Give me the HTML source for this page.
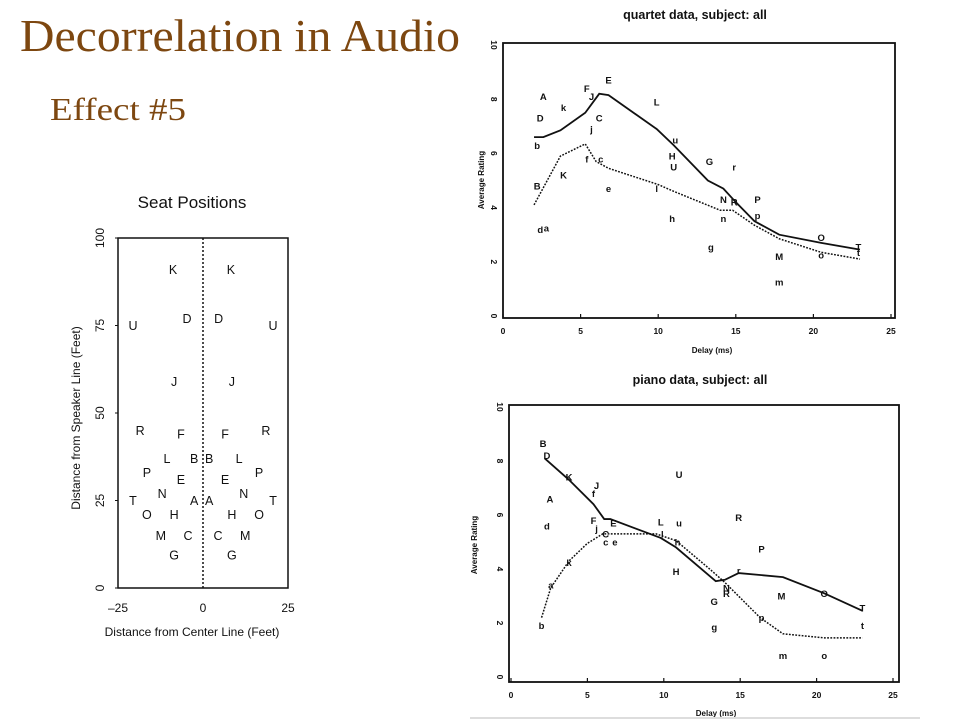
<!DOCTYPE html>
<html><head><meta charset="utf-8"><style>
html,body{margin:0;padding:0;background:#fff;}
svg{display:block;}
text{font-family:"Liberation Sans",sans-serif;fill:#111;}
</style></head><body>
<svg id="root" width="960" height="720" viewBox="0 0 960 720" xmlns="http://www.w3.org/2000/svg">
<text x="20" y="51" textLength="440" lengthAdjust="spacingAndGlyphs" style="font-family:'Liberation Serif',serif;font-size:46px;fill:#7d4710">Decorrelation in Audio</text>
<text x="50" y="120" textLength="136" lengthAdjust="spacingAndGlyphs" style="font-family:'Liberation Serif',serif;font-size:32px;fill:#7d4710">Effect #5</text>
<g id="seat"></g>
<g id="quartet"></g>
<g id="piano"></g>
<line x1="470" y1="718" x2="920" y2="718" stroke="#ddd" stroke-width="2"/>
</svg>
<script>
// ---- seat positions data ----
const seatLabels = ["K","D","U","J","R","F","L","B","P","E","N","T","A","O","H","M","C","G"];
const seatXLeft = [-8.8,-4.7,-20.6,-8.5,-18.5,-6.5,-10.6,-2.6,-16.5,-6.5,-12,-20.6,-2.6,-16.5,-8.5,-12.4,-4.4,-8.5];
const seatXRight = [8.2,4.6,20.6,8.5,18.5,6.5,10.6,1.8,16.5,6.5,12,20.6,1.8,16.5,8.5,12.4,4.4,8.5];
const seatY = [91,77,75,59,45,44,37,37,33,31,27,25,25,21,21,15,15,9.5];
const seatXTicks = ["-25","0","25"];
const seatYTicks = ["0","25","50","75","100"];

// ---- quartet data ----
const qLabels = ["A","k","F","J","E","L","D","C","j","b","u","H","U","G","r","f","c","K","B","e","l","N","R","P","p","h","n","d","a","g","O","T","t","M","o","m"];
const qX = [2.6,3.9,5.4,5.7,6.8,9.9,2.4,6.2,5.7,2.2,11.1,10.9,11.0,13.3,14.9,5.4,6.3,3.9,2.2,6.8,9.9,14.2,14.9,16.4,16.4,10.9,14.2,2.4,2.8,13.4,20.5,22.9,22.9,17.8,20.5,17.8];
const qY = [8.1,7.7,8.4,8.1,8.7,7.9,7.3,7.3,6.9,6.3,6.5,5.9,5.5,5.7,5.5,5.8,5.8,5.2,4.8,4.7,4.7,4.3,4.2,4.3,3.7,3.6,3.6,3.2,3.25,2.55,2.9,2.55,2.35,2.2,2.25,1.25];
const qSolidX = [2,2.6,3.7,5.3,6.2,6.8,9.9,11,13.2,14.2,15,16.2,17.8,20.5,23];
const qSolidY = [6.6,6.6,6.85,7.5,8.2,8.15,6.9,6.3,5.0,4.7,4.2,3.5,3.0,2.7,2.45];
const qDotX = [2,3.7,5.3,6,6.8,10,11,14,14.8,16.2,17.8,20.5,23];
const qDotY = [4.1,5.9,6.35,5.7,5.45,4.85,4.6,3.9,3.9,3.35,2.85,2.35,2.1];

// ---- piano data ----
const pLabels = ["B","D","K","J","f","A","U","d","F","j","E","C","c","e","L","u","l","h","R","P","k","H","r","a","N","R","G","M","O","p","T","b","g","t","m","o"];
const pX = [2.1,2.35,3.8,5.6,5.4,2.55,11.0,2.35,5.4,5.6,6.7,6.2,6.2,6.8,9.8,11.0,9.9,10.9,14.9,16.4,3.8,10.8,14.9,2.6,14.1,14.1,13.3,17.7,20.5,16.4,23.0,2.0,13.3,23.0,17.8,20.5];
const pY = [8.65,8.2,7.4,7.1,6.8,6.6,7.5,5.6,5.8,5.5,5.7,5.3,5.0,5.0,5.75,5.7,5.3,5.0,5.9,4.75,4.25,3.9,3.95,3.4,3.3,3.1,2.8,3.0,3.1,2.2,2.55,1.9,1.85,1.9,0.8,0.8];
const pSolidX = [2.2,3.8,5.4,6.1,6.5,9.8,10.8,13.4,14,14.9,17.8,20.5,23];
const pSolidY = [8.1,7.3,6.4,5.85,5.85,5.15,4.8,3.55,3.6,3.85,3.7,3.1,2.45];
const pDotX = [2,2.6,3.8,5,6,7,9.5,10.8,13,14,16.3,17.8,20.5,23];
const pDotY = [2.2,3.3,4.3,4.95,5.3,5.3,5.3,5.05,4.0,3.5,2.2,1.6,1.45,1.45];
const delayTicks = ["0","5","10","15","20","25"];
const ratingTicks = ["0","2","4","6","8","10"];

const NS = "http://www.w3.org/2000/svg";
function mk(parent, tag, attrs, txt){
  const e = document.createElementNS(NS, tag);
  for (const k in attrs) e.setAttribute(k, attrs[k]);
  if (txt !== undefined) e.textContent = txt;
  parent.appendChild(e);
  return e;
}

// ---------- seat chart ----------
(function(){
  const g = document.getElementById('seat');
  const sx = v => 203 + v * 3.4;
  const sy = v => 588 - v * 3.5;
  const t = mk(g,'text',{x:192,y:208,'text-anchor':'middle','font-size':17}, 'Seat Positions');
  
  
  const box = mk(g,'rect',{x:sx(-25),y:sy(100),width:sx(25)-sx(-25),height:sy(0)-sy(100),fill:'none',stroke:'#111','stroke-width':1.5});
  
  
  const cl = mk(g,'line',{x1:sx(0),y1:sy(100),x2:sx(0),y2:sy(0),stroke:'#111','stroke-width':1.5,'stroke-dasharray':'2,2'});
  
  
  seatXTicks.forEach(s => {
    const v = parseFloat(s);
    const l = mk(g,'text',{x:sx(v),y:612,'text-anchor':'middle','font-size':12}, s.replace('-','\u2013'));
    
    
  });
  seatYTicks.forEach(s => {
    const v = parseFloat(s);
    const l = mk(g,'text',{x:0,y:0,'text-anchor':'middle','font-size':12,transform:`translate(${104},${sy(v)}) rotate(-90)`}, s);
    
    
    mk(g,'line',{x1:sx(-25)-3,y1:sy(v),x2:sx(-25),y2:sy(v),stroke:'#111'});
  });
  const xt = mk(g,'text',{x:192,y:636,'text-anchor':'middle','font-size':12}, 'Distance from Center Line (Feet)');
  
  
  const yt = mk(g,'text',{x:0,y:0,'text-anchor':'middle','font-size':12,transform:'translate(80,418) rotate(-90)'}, 'Distance from Speaker Line (Feet)');
  
  
  seatLabels.forEach((lab,i) => {
    [seatXLeft[i], seatXRight[i]].forEach(xv => {
      const e = mk(g,'text',{x:sx(xv),y:sy(seatY[i])+4.5,'text-anchor':'middle','font-size':12.5}, lab);
      
      
    });
  });
})();

// ---------- rating charts ----------
function ratingChart(id, cfg, labels, xs, ys, sX, sY, dX, dY){
  const g = document.getElementById(id);
  const px = v => cfg.x0 + v * cfg.xu;
  const py = v => cfg.y0 - v * cfg.yu;
  const t = mk(g,'text',{x:cfg.tx,y:cfg.ty,'text-anchor':'middle','font-size':12.5,'font-weight':'bold'}, cfg.title);
  
  
  const box = mk(g,'rect',{x:cfg.bl,y:cfg.bt,width:cfg.br-cfg.bl,height:cfg.bb-cfg.bt,fill:'none',stroke:'#111','stroke-width':1.8});
  
  
  delayTicks.forEach(s => {
    const v = parseFloat(s);
    mk(g,'line',{x1:px(v),y1:cfg.bb,x2:px(v),y2:cfg.bb-4,stroke:'#111','stroke-width':1.2});
    const l = mk(g,'text',{x:px(v),y:cfg.bb+16,'text-anchor':'middle','font-size':8.5,'font-weight':'bold'}, s);
    
    
  });
  ratingTicks.forEach(s => {
    const v = parseFloat(s);
    const l = mk(g,'text',{x:0,y:0,'text-anchor':'middle','font-size':8.5,'font-weight':'bold',transform:`translate(${cfg.bl-12},${py(v)}) rotate(90)`}, s);
    
    
  });
  const xt = mk(g,'text',{x:cfg.xtx,y:cfg.xty,'text-anchor':'middle','font-size':8,'font-weight':'bold'}, 'Delay (ms)');
  
  
  const yt = mk(g,'text',{x:0,y:0,'text-anchor':'middle','font-size':8,'font-weight':'bold',transform:`translate(${cfg.ytx},${cfg.yty}) rotate(-90)`}, 'Average Rating');
  
  
  const sp = mk(g,'polyline',{points:sX.map((v,i)=>px(v)+','+py(sY[i])).join(' '),fill:'none',stroke:'#111','stroke-width':1.8});
  
  
  const dp = mk(g,'polyline',{points:dX.map((v,i)=>px(v)+','+py(dY[i])).join(' '),fill:'none',stroke:'#111','stroke-width':1.5,'stroke-dasharray':'1.8,1.4'});
  
  
  labels.forEach((lab,i) => {
    const e = mk(g,'text',{x:px(xs[i]),y:py(ys[i])+3.5,'text-anchor':'middle','font-size':9.5,'font-weight':'bold'}, lab);
    
    
  });
}

ratingChart('quartet', {x0:503,xu:15.52,y0:316,yu:27.1,bl:503,br:895,bt:43,bb:318,
  title:'quartet data, subject: all',tx:695,ty:19,xtx:712,xty:353,ytx:484,yty:180},
  qLabels,qX,qY,qSolidX,qSolidY,qDotX,qDotY);
ratingChart('piano', {x0:511,xu:15.28,y0:677,yu:27,bl:509,br:899,bt:405,bb:682,
  title:'piano data, subject: all',tx:700,ty:384,xtx:716,xty:716,ytx:477,yty:545},
  pLabels,pX,pY,pSolidX,pSolidY,pDotX,pDotY);
</script>
</body></html>
